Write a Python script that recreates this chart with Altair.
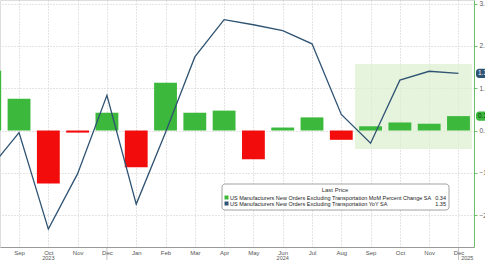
import altair as alt
import pandas as pd

# ---- data ----
month_labels = ["Aug", "Sep", "Oct", "Nov", "Dec", "Jan", "Feb", "Mar", "Apr",
                "May", "Jun", "Jul", "Aug", "Sep", "Oct", "Nov", "Dec"]
month_index = list(range(-1, 16))
mom_change = [1.41, 0.75, -1.25, -0.05, 0.42, -0.87, 1.13, 0.42, 0.47,
              -0.68, 0.07, 0.31, -0.22, 0.10, 0.19, 0.16, 0.34]
yoy_change = [-0.90, -0.05, -2.33, -1.02, 0.83, -1.74, -0.05, 1.74, 2.62,
              2.50, 2.36, 2.05, 0.38, -0.30, 1.19, 1.40, 1.35]
tick_labels = ["Sep", "Oct", "Nov", "Dec", "Jan", "Feb", "Mar", "Apr",
               "May", "Jun", "Jul", "Aug", "Sep", "Oct", "Nov", "Dec"]
year_labels = ["2023", "2024", "2025"]
year_pos = [1, 9, 15.3]
y_ticks = [-2, -1, 0, 1, 2, 3]
series_names = [
    "US Manufacturers New Orders Excluding Transportation MoM Percent Change SA",
    "US Manufacturers New Orders Excluding Transportation YoY SA",
]
last_values = ["0.34", "1.35"]
shade_x = [11.47, 15.46]
shade_y = [-0.44, 1.57]

GREEN = "#3cb83c"
RED = "#f20c0c"
BLUE = "#2f5373"
FONT = "Liberation Sans"

df = pd.DataFrame({"i": month_index, "m": month_labels,
                   "mom": mom_change, "yoy": yoy_change})

W, H = 474, 247
xs = alt.Scale(domain=[-0.65, 15.53], nice=False, zero=False)
ys = alt.Scale(domain=[-2.754, 3.085], nice=False, zero=False)

lab_arr = "[" + ",".join("'%s'" % t for t in tick_labels) + "]"
x_axis = alt.Axis(values=list(range(0, 16)), tickCount=len(tick_labels),
                  labelExpr=lab_arr + "[round(datum.value)]",
                  title=None, ticks=False, labelFontSize=6, labelColor="#555",
                  labelFont=FONT, labelPadding=2, labelBaseline="top",
                  domainColor="#999", labelOverlap=False, labelSeparation=0,
                  gridColor="#c8c8c8", gridDash=[1, 2], labelFlush=False)
y_axis = alt.Axis(orient="right", values=y_ticks, format=".1f", title=None,
                  labelFontSize=6.5, labelColor="#555", labelFont=FONT,
                  domainColor="#6cc06c", tickColor="#6cc06c", tickSize=3,
                  labelOverlap=False,
                  labelPadding=2, gridColor="#c8c8c8", gridDash=[1, 2])

# base layer carrying the axes
shade_df = pd.DataFrame({"x0": [shade_x[0]], "x1": [shade_x[1]],
                         "y0": [shade_y[0]], "y1": [shade_y[1]]})
shade = alt.Chart(shade_df).mark_rect(color="#dcefcf", opacity=0.7).encode(
    x=alt.X("x0:Q", scale=xs, axis=x_axis), x2="x1:Q",
    y=alt.Y("y0:Q", scale=ys, axis=y_axis), y2="y1:Q")

bars = alt.Chart(df).transform_calculate(
    x0="datum.i - 0.39", x1="datum.i + 0.39",
    c="datum.mom >= 0 ? 'pos' : 'neg'", z="0"
).mark_bar(clip=True).encode(
    x=alt.X("x0:Q", scale=xs), x2="x1:Q",
    y=alt.Y("mom:Q", scale=ys), y2="z:Q",
    color=alt.Color("c:N", scale=alt.Scale(domain=["pos", "neg"], range=[GREEN, RED]),
                    legend=None))

line = alt.Chart(df).mark_line(clip=True, color=BLUE, strokeWidth=1.3).encode(
    x=alt.X("i:Q", scale=xs),
    y=alt.Y("yoy:Q", scale=ys))

# value badges on right axis
badge_df = pd.DataFrame({"v": [yoy_change[-1], mom_change[-1]],
                         "t": [last_values[1], last_values[0]],
                         "fill": [BLUE, GREEN], "tc": ["white", "#0a300a"]})
badge_rect = alt.Chart(badge_df).transform_calculate(
    lo="datum.v - 0.11", hi="datum.v + 0.11"
).mark_rect(cornerRadius=3).encode(
    x=alt.value(W + 2), x2=alt.value(W + 20),
    y=alt.Y("lo:Q", scale=ys), y2="hi:Q",
    fill=alt.Fill("fill:N", scale=None))
badge_text = alt.Chart(badge_df).mark_text(align="left", baseline="middle",
                                           fontSize=6.5, font=FONT).encode(
    x=alt.value(W + 4), y=alt.Y("v:Q", scale=ys),
    text="t:N", fill=alt.Fill("tc:N", scale=None))

# year labels
year_df = pd.DataFrame({"p": year_pos, "t": year_labels})
years = alt.Chart(year_df).mark_text(fontSize=5.5, color="#555", font=FONT,
                                     baseline="middle").encode(
    x=alt.X("p:Q", scale=xs), y=alt.value(H + 11), text="t:N")
sep_df = pd.DataFrame({"p": [3, 15]})
seps = alt.Chart(sep_df).mark_rule(color="#999", strokeWidth=0.6).encode(
    x=alt.X("p:Q", scale=xs), y=alt.value(H + 1), y2=alt.value(H + 14))

# legend box (drawn by hand)
one = pd.DataFrame({"a": [0]})
box = alt.Chart(one).mark_rect(
    fill="white", stroke="#8a8a8a", strokeWidth=0.8, cornerRadius=3).encode(
    x=alt.value(222), x2=alt.value(449), y=alt.value(184), y2=alt.value(210))
title = alt.Chart(one).mark_text(
    fontSize=6, color="#333", font=FONT, baseline="middle", text="Last Price").encode(
    x=alt.value(335), y=alt.value(190))

leg_layers = []
for name, val, col, yy in zip(series_names, last_values,
                              [GREEN, BLUE], [197.5, 203.5]):
    leg_layers.append(alt.Chart(one).mark_rect(color=col).encode(
        x=alt.value(224.5), x2=alt.value(228.5), y=alt.value(yy - 2), y2=alt.value(yy + 2)))
    leg_layers.append(alt.Chart(one).mark_text(
        align="left", baseline="middle", fontSize=5.5, color="#222", font=FONT,
        text=name).encode(x=alt.value(230), y=alt.value(yy)))
    leg_layers.append(alt.Chart(one).mark_text(
        align="right", baseline="middle", fontSize=5.5, color="#222", font=FONT,
        text=val).encode(x=alt.value(446), y=alt.value(yy)))

chart = alt.layer(
    shade, bars, line, badge_rect, badge_text, years, seps,
    box, title, *leg_layers
).properties(
    width=W, height=H,
    autosize=alt.AutoSizeParams(type="none"),
    padding={"left": 0, "top": 0, "right": 11, "bottom": 13},
).configure_view(stroke=None).configure_axis(
    labelOverlap=False
).configure(background="white")

chart.save("out.html", embed_options={"renderer": "svg", "actions": False})
